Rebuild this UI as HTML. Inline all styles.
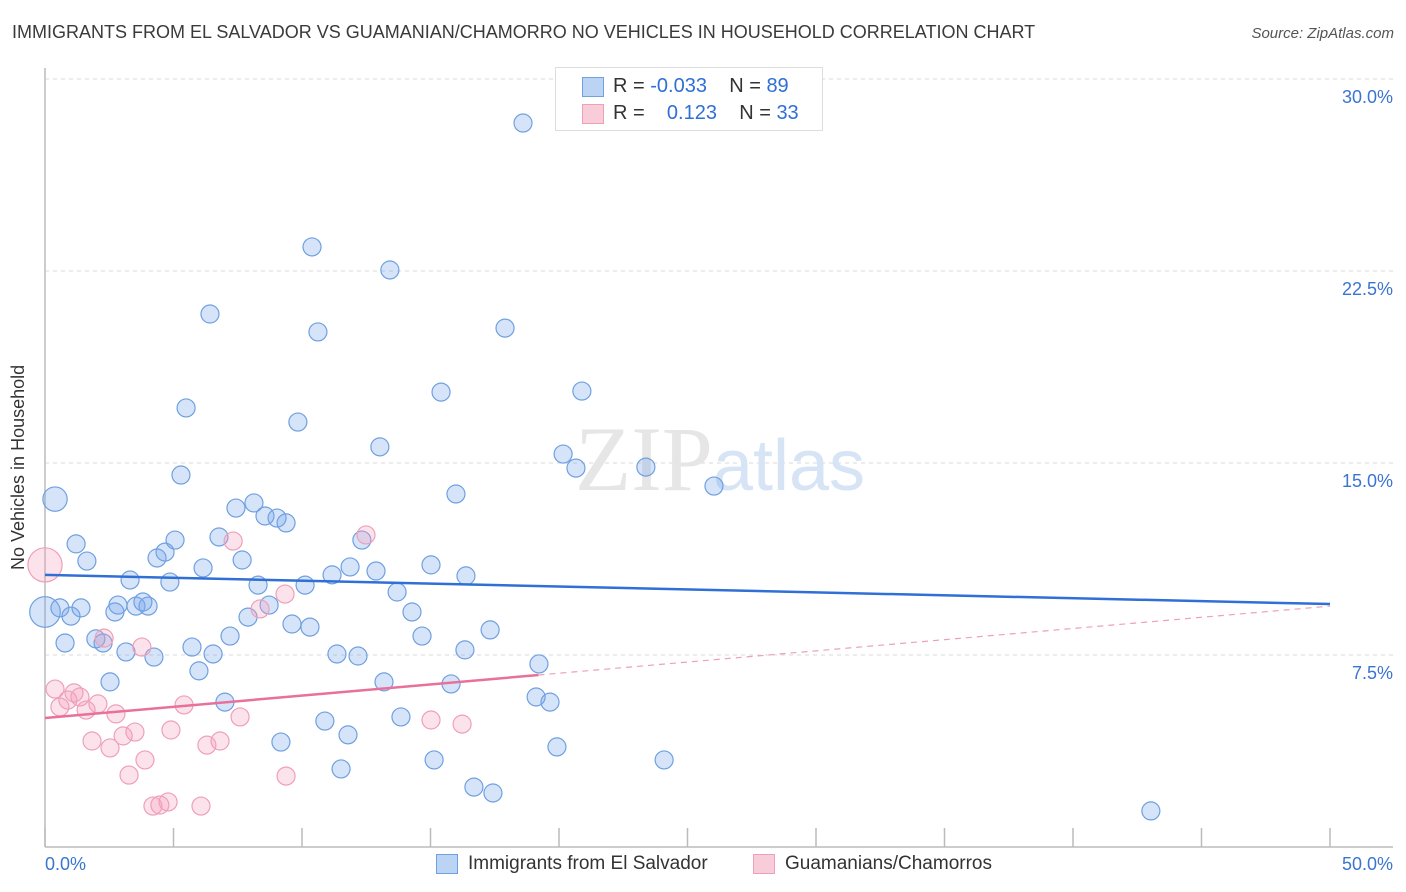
<!DOCTYPE html>
<html><head><meta charset="utf-8"><style>
body{margin:0;background:#fff;font-family:"Liberation Sans",sans-serif}
#wrap{position:relative;width:1406px;height:892px;overflow:hidden}
.t{position:absolute;white-space:nowrap}
</style></head><body>
<div id="wrap">
<div class="t" style="left:12px;top:22px;font-size:18px;color:#3a3a3a">IMMIGRANTS FROM EL SALVADOR VS GUAMANIAN/CHAMORRO NO VEHICLES IN HOUSEHOLD CORRELATION CHART</div>
<div class="t" style="right:12px;top:25px;font-size:15px;font-style:italic;color:#555">Source: ZipAtlas.com</div>
<div class="t" style="left:8px;top:570px;transform:rotate(-90deg);transform-origin:0 0;font-size:18px;color:#333">No Vehicles in Household</div>
<svg id="svg" width="1406" height="892" style="position:absolute;left:0;top:0"></svg>
<div class="t" style="left:555px;top:67px;width:266px;height:62px;border:1px solid #ddd;background:#fff;font-size:20px;color:#333">
 <div style="position:absolute;left:26px;top:9px;width:20px;height:18px;background:#bcd4f4;border:1px solid #6fa0e0"></div>
 <div style="position:absolute;left:57px;top:7px">R = <span style="color:#2f6fd6">-0.033</span>&nbsp;&nbsp;&nbsp; N = <span style="color:#2f6fd6">89</span></div>
 <div style="position:absolute;left:26px;top:36px;width:20px;height:18px;background:#f8ccd9;border:1px solid #eea0b8"></div>
 <div style="position:absolute;left:57px;top:34px">R = &nbsp;&nbsp; <span style="color:#2f6fd6">0.123</span>&nbsp;&nbsp;&nbsp; N = <span style="color:#2f6fd6">33</span></div>
</div>
<div class="t" style="left:436px;top:854px;width:20px;height:18px;background:#bcd4f4;border:1px solid #6fa0e0"></div>
<div class="t" style="left:468px;top:853px;font-size:19px;color:#333">Immigrants from El Salvador</div>
<div class="t" style="left:753px;top:854px;width:20px;height:18px;background:#f8ccd9;border:1px solid #eea0b8"></div>
<div class="t" style="left:785px;top:853px;font-size:19px;color:#333">Guamanians/Chamorros</div>
</div>
<script>
const yTicks=[7.5,15.0,22.5,30.0];
const xTickLabels=["0.0%","50.0%"];
const blueX=[18.6,10.39,13.42,6.42,10.62,17.90,15.41,20.89,5.49,9.84,13.03,20.16,20.66,23.38,5.29,26.03,15.99,0.39,8.13,7.43,8.56,9.03,9.38,1.21,5.06,6.77,12.33,1.63,4.67,4.36,7.67,3.31,4.86,6.15,11.87,12.88,15.02,16.38,11.17,10.12,8.29,13.70,0,0.58,1.01,1.40,2.84,2.72,3.54,4.01,3.81,8.72,14.28,7.90,9.61,10.31,17.32,14.67,1.98,2.26,0.78,7.20,5.72,3.15,4.24,6.54,11.36,12.18,16.34,19.22,5.99,2.53,13.19,15.80,7.00,19.11,19.65,13.85,10.89,9.18,11.79,19.92,15.14,24.09,11.52,16.69,17.43,43.03];
const blueY=[28.28,23.44,22.54,20.82,20.12,20.27,17.77,17.81,17.15,16.60,15.63,15.35,14.80,14.84,14.53,14.10,13.79,13.59,13.44,13.24,12.93,12.85,12.66,11.84,11.99,12.11,11.99,11.17,11.52,11.29,11.21,10.43,10.35,10.90,10.94,10.78,11.02,10.59,10.63,10.23,10.23,9.96,9.18,9.34,9.02,9.34,9.45,9.18,9.41,9.41,9.57,9.45,9.18,8.98,8.71,8.59,8.48,8.24,8.13,7.97,7.97,8.24,7.81,7.62,7.42,7.54,7.54,7.46,7.70,7.15,6.88,6.45,6.45,6.37,5.66,5.86,5.66,5.08,4.92,4.10,4.38,3.91,3.40,3.40,3.05,2.34,2.11,1.41];
const blueBig={17:1.35,42:1.7};
const pinkX=[0,0.39,0.58,0.89,1.13,1.36,1.60,2.06,1.83,2.53,2.76,3.04,3.27,3.50,3.89,3.77,4.20,4.47,4.79,4.90,5.41,6.07,6.30,6.81,7.59,7.32,2.30,8.37,9.34,12.49,9.38,15.02,16.23];
const pinkY=[11.02,6.17,5.47,5.74,6.02,5.86,5.35,5.59,4.14,3.87,5.20,4.34,2.81,4.49,3.40,7.81,1.60,1.64,1.76,4.57,5.55,1.60,3.98,4.14,5.08,11.95,8.16,9.30,9.88,12.19,2.77,4.96,4.80];
const pinkBig={0:1.9};
const blueTrend=[10.63,9.49];
const pinkTrend=[5.04,9.41];
const pinkSolidEnd=19.2;

const X0=45,X1=1330,Y0=847,Y30=79;
const sx=v=>X0+(v/50)*(X1-X0);
const sy=v=>Y0-(v/30)*(Y0-Y30);
const svg=document.getElementById('svg');
const NS='http://www.w3.org/2000/svg';
function mk(tag,attrs){const e=document.createElementNS(NS,tag);for(const k in attrs)e.setAttribute(k,attrs[k]);svg.appendChild(e);return e;}
// gridlines
yTicks.forEach((t,i)=>{
 const g=mk('line',{x1:X0,x2:1393,y1:sy(t),y2:sy(t),stroke:'#d8d8d8','stroke-dasharray':'4,4'});
 
 
 const tx=mk('text',{x:1393,y:sy(t)+24,'text-anchor':'end','font-size':18,fill:'#3a75d0','font-family':'Liberation Sans, sans-serif'});
 tx.textContent=t.toFixed(1)+'%';
 
 
});
// axes
const ax=mk('line',{x1:X0,x2:1393,y1:Y0,y2:Y0,stroke:'#bbb','stroke-width':1.5});


const ay=mk('line',{x1:X0,x2:X0,y1:68,y2:Y0,stroke:'#bbb','stroke-width':1.5});


for(let i=0;i<=10;i++){
 const tk=mk('line',{x1:sx(i*5),x2:sx(i*5),y1:828,y2:Y0,stroke:'#bbb','stroke-width':1.5});
 
 
}
const xl0=mk('text',{x:45,y:870,'font-size':18,fill:'#3a75d0','font-family':'Liberation Sans, sans-serif'});
xl0.textContent=xTickLabels[0];


const xl1=mk('text',{x:1393,y:870,'text-anchor':'end','font-size':18,fill:'#3a75d0','font-family':'Liberation Sans, sans-serif'});
xl1.textContent=xTickLabels[1];


// watermark
const wm=mk('text',{x:720,y:490,'text-anchor':'middle','font-size':92,fill:'#e6e6e6','font-family':'Liberation Serif, serif'});
wm.innerHTML='ZIP<tspan fill="#d6e4f6" font-family="Liberation Sans, sans-serif" font-size="72">atlas</tspan>';


// points
blueX.forEach((v,i)=>{
 const r=9*(blueBig[i]||1);
 const c=mk('circle',{cx:sx(v),cy:sy(blueY[i]),r:r,fill:'rgba(120,165,235,0.3)',stroke:'#6fa0e0','stroke-width':1.2});
 
 
});
pinkX.forEach((v,i)=>{
 const r=9*(pinkBig[i]||1);
 const c=mk('circle',{cx:sx(v),cy:sy(pinkY[i]),r:r,fill:'rgba(245,160,190,0.3)',stroke:'#eea0b8','stroke-width':1.2});
 
 
});
// trends
const bl=mk('line',{x1:sx(0),y1:sy(blueTrend[0]),x2:sx(50),y2:sy(blueTrend[1]),stroke:'#2f6fd6','stroke-width':2.5});


const pAt=x=>pinkTrend[0]+(pinkTrend[1]-pinkTrend[0])*x/50;
const pl=mk('line',{x1:sx(0),y1:sy(pinkTrend[0]),x2:sx(pinkSolidEnd),y2:sy(pAt(pinkSolidEnd)),stroke:'#e8709a','stroke-width':2.5});


const pd=mk('line',{x1:sx(pinkSolidEnd),y1:sy(pAt(pinkSolidEnd)),x2:sx(50),y2:sy(pinkTrend[1]),stroke:'#eea0b8','stroke-width':1.2,'stroke-dasharray':'6,5'});


</script>
</body></html>
